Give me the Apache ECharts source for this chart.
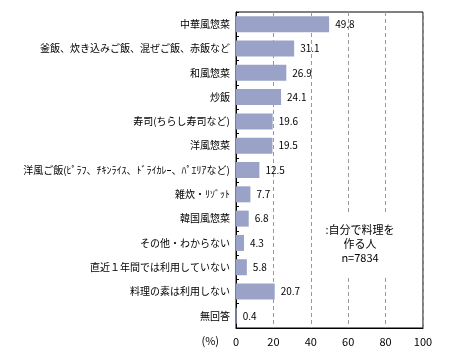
<!DOCTYPE html>
<html><head><meta charset="utf-8">
<script src="https://cdn.jsdelivr.net/npm/echarts@6/dist/echarts.min.js"></script>
<style>html,body{margin:0;padding:0;background:#fff}#c{width:452px;height:362px}</style>
</head><body><div id="c"></div>
<script>
const categories = ["中華風惣菜","釜飯、炊き込みご飯、混ぜご飯、赤飯など","和風惣菜","炒飯","寿司(ちらし寿司など)","洋風惣菜","洋風ご飯(ﾋﾟﾗﾌ、ﾁｷﾝﾗｲｽ、ﾄﾞﾗｲｶﾚｰ、ﾊﾟｴﾘｱなど)","雑炊・ﾘｿﾞｯﾄ","韓国風惣菜","その他・わからない","直近１年間では利用していない","料理の素は利用しない","無回答"];
const values = [49.8,31.1,26.9,24.1,19.6,19.5,12.5,7.7,6.8,4.3,5.8,20.7,0.4];
const xTicks = [0,20,40,60,80,100];
const FONT = '"Noto Sans CJK JP", sans-serif';
const chart = echarts.init(document.getElementById('c'), null, {renderer:'canvas'});
chart.setOption({
  animation:false,
  grid:{left:236,right:29,top:12,bottom:34,show:true,borderColor:'#000',borderWidth:1,backgroundColor:'transparent'},
  xAxis:{type:'value',min:xTicks[0],max:xTicks[xTicks.length-1],interval:20,
    axisLine:{show:true,lineStyle:{color:'#000'}},
    axisTick:{show:false},
    axisLabel:{color:'#000',fontSize:11,fontFamily:FONT,margin:8},
    splitLine:{show:true,lineStyle:{color:'#999',type:[4,3],width:1}}},
  yAxis:{type:'category',data:categories,inverse:true,
    axisLine:{show:true,lineStyle:{color:'#000'}},
    axisTick:{show:true,inside:true,length:3,lineStyle:{color:'#000'}},
    axisLabel:{color:'#000',fontSize:10,fontFamily:FONT,margin:6},
    splitLine:{show:false}},
  series:[{type:'bar',data:values,barWidth:16,
    itemStyle:{color:'#9aa3c7'},
    label:{show:true,position:'right',distance:6,color:'#000',fontSize:10,fontFamily:FONT,formatter:p=>p.value.toFixed(1)}}],
  graphic:[
    {type:'rect',shape:{x:322,y:212,width:76,height:64},style:{fill:'#fff'},z:100},
    {type:'text',x:360,y:244,z:101,style:{text:':自分で料理を\n作る人\nn=7834',fill:'#000',font:'11px '+FONT,align:'center',verticalAlign:'middle',lineHeight:14}},
    {type:'text',x:219,y:341,z:101,style:{text:'(%)',fill:'#000',font:'11px '+FONT,align:'right',verticalAlign:'middle'}}
  ]
});
</script></body></html>
